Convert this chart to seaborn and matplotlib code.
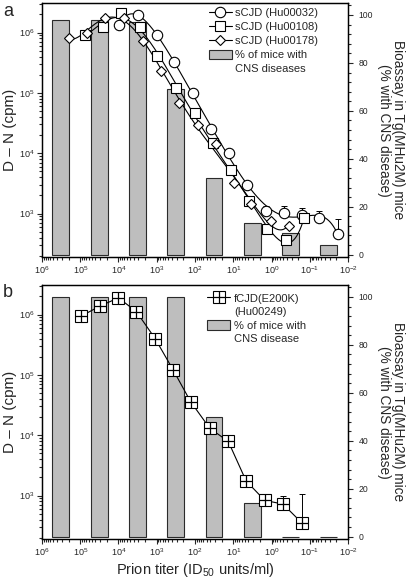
import numpy as np
import pandas as pd
import matplotlib
matplotlib.use("Agg")
import matplotlib.pyplot as plt
from matplotlib.lines import Line2D
from matplotlib.patches import Patch
from matplotlib.ticker import LogLocator, MultipleLocator, NullFormatter
import seaborn as sns

sns.set_style("ticks")
plt.rcParams["font.family"] = ["Liberation Sans", "DejaVu Sans"]
plt.rcParams["mathtext.fontset"] = "custom"
plt.rcParams["mathtext.rm"] = "Liberation Sans"
plt.rcParams["mathtext.it"] = "Liberation Sans:italic"

# ── data ───────────────────────────────────────────────
# panel a : sCJD samples, D-N signal (cpm) vs prion titer (ID50 units/ml)
titer_032 = [9.8e3, 3.1e3, 1.0e3, 350, 115, 38, 12.6, 4.3, 1.4, 0.47, 0.155, 0.056, 0.0186]
cpm_032   = [1.35e6, 1.95e6, 9.3e5, 3.2e5, 9.8e4, 2.5e4, 1.0e4, 3.0e3, 1.12e3, 1.02e3, 950, 850, 460]
err_032   = [0, 0, 0, 0, 0, 0, 0, 0, 230, 290, 300, 270, 350]

titer_108 = [7.6e4, 2.6e4, 8.5e3, 2.8e3, 980, 310, 102, 34, 11.5, 3.9, 1.3, 0.43, 0.14]
cpm_108   = [9.1e5, 1.23e6, 2.1e6, 1.23e6, 4.1e5, 1.23e5, 4.6e4, 1.48e4, 5.2e3, 1.6e3, 560, 360, 830]

titer_178 = [2.0e5, 6.6e4, 2.2e4, 7.1e3, 2.3e3, 780, 260, 85, 29, 9.8, 3.4, 1.05, 0.35]
cpm_178   = [8.1e5, 1.0e6, 1.78e6, 1.78e6, 7.2e5, 2.3e5, 6.9e4, 2.9e4, 1.4e4, 3.2e3, 1.45e3, 760, 620]

# panel b : fCJD(E200K)
titer_249 = [9.3e4, 3.1e4, 1.0e4, 3.4e3, 1.1e3, 370, 130, 41, 13.5, 4.6, 1.5, 0.5, 0.16]
cpm_249   = [9.5e5, 1.38e6, 1.9e6, 1.12e6, 4.0e5, 1.2e5, 3.6e4, 1.3e4, 7.9e3, 1.74e3, 830, 720, 350]
err_249   = [250e3, 0, 0, 0, 0, 0, 0, 0, 2.1e3, 0, 0, 260, 700]

# bioassay: % of Tg(MHu2M) mice with CNS disease per dilution
bar_titer = [3.2e5, 3.2e4, 3.2e3, 320, 32, 3.2, 0.32, 0.032]
pct_a     = [98, 98, 97, 69, 32, 13, 9, 4]
pct_b     = [100, 100, 100, 100, 50, 14, 0, 0]

BAR_GREY = "#bebebe"
EDGE = "#2b2b2b"
TICK_FS = 6.5
RTICK_FS = 6.2
LEG_FS = 8


def smooth_curve(x, y, deg):
    lx, ly = np.log10(x), np.log10(y)
    coef = np.polyfit(lx, ly, deg)
    gx = np.linspace(lx.min(), lx.max(), 300)
    return 10 ** gx, 10 ** np.polyval(coef, gx)


def style_axes(ax, tw):
    ax.set_xscale("log")
    ax.set_yscale("log")
    ax.set_xlim(1e6, 1e-2)
    ax.set_ylim(190, 3.1e6)
    ax.xaxis.set_major_locator(LogLocator(base=10, numticks=20))
    ax.xaxis.set_minor_locator(LogLocator(base=10, subs=np.arange(2, 10), numticks=20))
    ax.xaxis.set_minor_formatter(NullFormatter())
    ax.yaxis.set_major_locator(LogLocator(base=10, numticks=20))
    ax.yaxis.set_minor_locator(LogLocator(base=10, subs=np.arange(2, 10), numticks=20))
    ax.yaxis.set_minor_formatter(NullFormatter())
    ax.tick_params(which="both", direction="out", labelsize=TICK_FS, width=0.8,
                   top=False, right=False)
    ax.tick_params(which="major", length=3.5, pad=2)
    ax.tick_params(which="minor", length=2)
    ax.set_ylabel("D \u2013 N (cpm)", fontsize=11, labelpad=1)

    tw.set_ylim(-1, 105)
    tw.yaxis.set_major_locator(MultipleLocator(20))
    tw.yaxis.set_minor_locator(MultipleLocator(4))
    tw.tick_params(which="both", direction="out", labelsize=RTICK_FS, width=0.8)
    tw.tick_params(which="major", length=3.5, pad=4)
    tw.tick_params(which="minor", length=2)
    tw.set_ylabel("Bioassay in Tg(MHu2M) mice\n(% with CNS disease)",
                  rotation=270, fontsize=9.8, labelpad=23, linespacing=1.0)
    for sp in list(ax.spines.values()) + list(tw.spines.values()):
        sp.set_linewidth(0.9)
        sp.set_color("black")

    # bars behind the curves
    ax.set_zorder(tw.get_zorder() + 1)
    ax.patch.set_visible(False)


def draw_bars(tw, pct):
    c = np.array(bar_titer)
    left = c * 10 ** -0.22
    width = c * 10 ** 0.22 - left
    tw.bar(left, pct, width=width, align="edge", color=BAR_GREY,
           edgecolor=EDGE, linewidth=0.8)


def open_markers(ax, x, y, marker, ms):
    ax.plot(x, y, linestyle="none", marker=marker, markersize=ms,
            markerfacecolor="white", markeredgecolor="black",
            markeredgewidth=0.8, zorder=4)


blank = Line2D([], [], linestyle="none")

fig = plt.figure(figsize=(4.1, 5.8), dpi=100)
ax_a = fig.add_axes([0.1024, 0.5569, 0.7464, 0.4379])
tw_a = ax_a.twinx()
ax_b = fig.add_axes([0.1024, 0.0707, 0.7464, 0.4379])
tw_b = ax_b.twinx()

# ── panel a ─────────────────────────────────────────
draw_bars(tw_a, pct_a)
for tx, cp in [(titer_032, cpm_032), (titer_108, cpm_108), (titer_178, cpm_178)]:
    gx, gy = smooth_curve(tx, cp, 6)
    ax_a.plot(gx, gy, color="black", lw=0.8, zorder=3)

ax_a.errorbar(titer_032, cpm_032, yerr=[np.zeros(len(err_032)), err_032],
              fmt="none", ecolor="black", elinewidth=0.7, capsize=2, capthick=0.7, zorder=3)
open_markers(ax_a, titer_032, cpm_032, "o", 7.5)
open_markers(ax_a, titer_108, cpm_108, "s", 7)
open_markers(ax_a, titer_178, cpm_178, "D", 5.4)
style_axes(ax_a, tw_a)

leg_a = [
    Line2D([], [], color="black", lw=0.8, marker="o", ms=7.5, mfc="white", mec="black", mew=0.8),
    Line2D([], [], color="black", lw=0.8, marker="s", ms=7, mfc="white", mec="black", mew=0.8),
    Line2D([], [], color="black", lw=0.8, marker="D", ms=5.4, mfc="white", mec="black", mew=0.8),
    Patch(facecolor=BAR_GREY, edgecolor=EDGE, linewidth=0.8),
    blank,
]
ax_a.legend(leg_a, ["sCJD (Hu00032)", "sCJD (Hu00108)", "sCJD (Hu00178)",
                    "% of mice with", "CNS diseases"],
            loc="upper left", bbox_to_anchor=(0.53, 1.0), frameon=False,
            fontsize=LEG_FS, handlelength=2.1, handletextpad=0.3, labelspacing=0.33,
            borderaxespad=0.0, handleheight=0.9)

# ── panel b ─────────────────────────────────────────
draw_bars(tw_b, pct_b)
df_b = pd.DataFrame({"titer": titer_249, "cpm": cpm_249})
sns.lineplot(data=df_b, x="titer", y="cpm", ax=ax_b, color="black", lw=0.8,
             sort=False, estimator=None, zorder=3)
ax_b.errorbar(titer_249, cpm_249, yerr=[np.zeros(len(err_249)), err_249],
              fmt="none", ecolor="black", elinewidth=0.7, capsize=2, capthick=0.7, zorder=3)
open_markers(ax_b, titer_249, cpm_249, "s", 8)
ax_b.plot(titer_249, cpm_249, linestyle="none", marker="+", markersize=8,
          markeredgecolor="black", markeredgewidth=0.9, zorder=5)
style_axes(ax_b, tw_b)
ax_b.set_xlabel("Prion titer (ID$_{50}$ units/ml)", fontsize=10.5, labelpad=2)

sq = Line2D([], [], color="black", lw=0.8, marker="s", ms=8, mfc="white", mec="black", mew=0.8)
pl = Line2D([], [], linestyle="none", marker="+", ms=8, mec="black", mew=0.9)
ax_b.legend([(sq, pl), blank, Patch(facecolor=BAR_GREY, edgecolor=EDGE, linewidth=0.8), blank],
            ["fCJD(E200K)", "(Hu00249)", "% of mice with", "CNS disease"],
            loc="upper left", bbox_to_anchor=(0.525, 0.985), frameon=False,
            fontsize=LEG_FS, handlelength=2.1, handletextpad=0.3, labelspacing=0.28,
            borderaxespad=0.0, handleheight=0.9)

fig.text(0.008, 0.995, "a", fontsize=13, va="top", ha="left")
fig.text(0.008, 0.51, "b", fontsize=13, va="top", ha="left")

fig.savefig("out.png", dpi=100, facecolor="white")
